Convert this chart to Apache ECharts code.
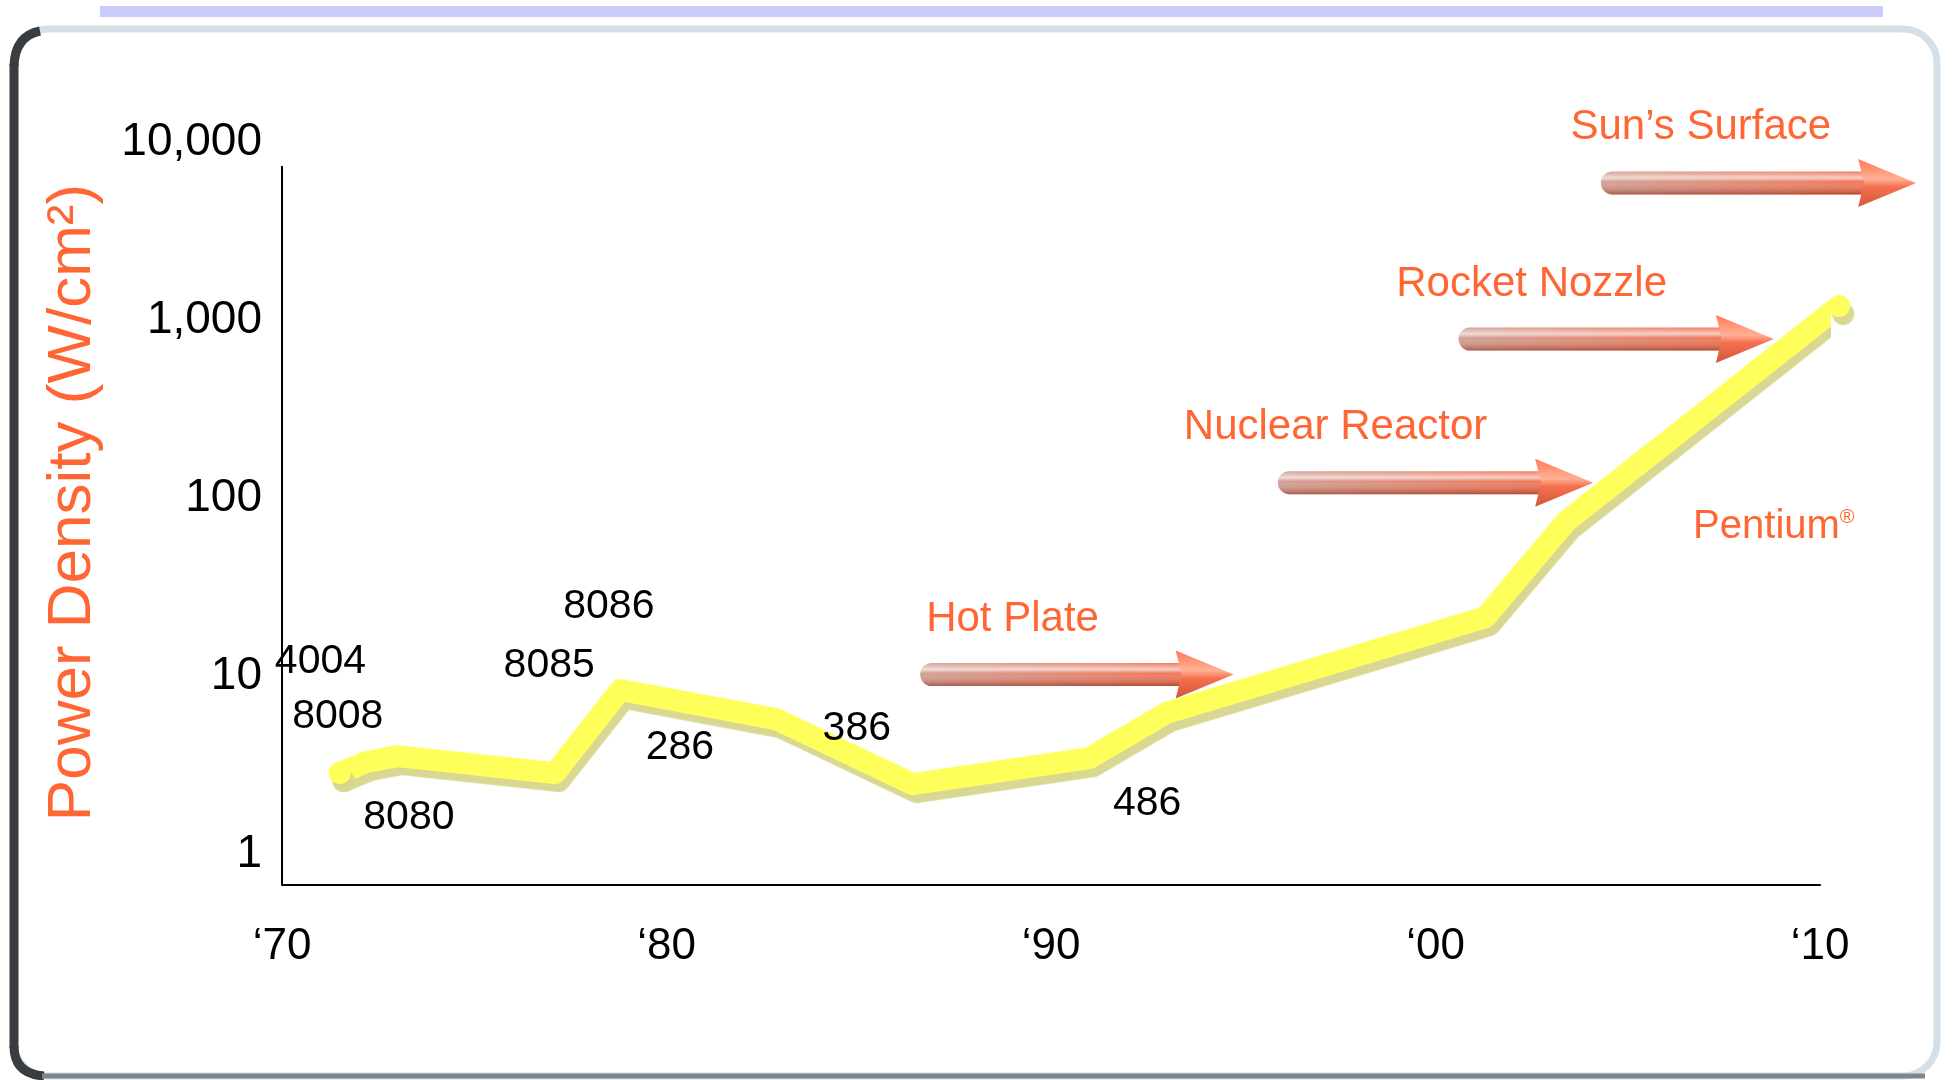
<!DOCTYPE html>
<html>
<head>
<meta charset="utf-8">
<script src="https://cdn.jsdelivr.net/npm/echarts@6/dist/echarts.min.js"></script>
<style>
html,body{margin:0;padding:0;background:#ffffff;}
#chart{width:1955px;height:1080px;}
</style>
</head>
<body>
<div id="chart"></div>
<script>
// ---- data ----
const lineYears  = [1971.5, 1972.2, 1973.0, 1977.1, 1978.8, 1982.85, 1986.4, 1991.0, 1993.0, 2001.3, 2003.4, 2010.5];
const lineValues = [2.85,   3.29,   3.55,   2.85,   8.35,   5.73,    2.47,   3.46,   6.2,    21.4,   74,     1200];

const chipNames       = ['4004', '8008', '8080', '8085', '8086', '286', '386', '486', 'Pentium®'];
const chipLabelYears  = [1971.0, 1971.45, 1973.3, 1976.95, 1978.5, 1980.35, 1984.95, 1992.5, 2008.8];
const chipLabelValues = [12.1,   5.9,     1.61,   11.5,    24.4,   3.94,    5.04,    1.91,   68.7];

const comparisonNames      = ['Hot Plate', 'Nuclear Reactor', 'Rocket Nozzle', 'Sun’s Surface'];
const comparisonValues     = [10.2, 122, 782, 5890];
const arrowStartYears      = [1986.6, 1995.9, 2000.6, 2004.3];
const arrowEndYears        = [1994.75, 2004.1, 2008.8, 2012.5];
const comparisonLabelYears = [1989.0, 1997.4, 2002.5, 2006.9];

const xTickYears = [1970, 1980, 1990, 2000, 2010];
const yTickValues = [1, 10, 100, 1000, 10000];
const yAxisMin = 0.67;          // bottom of the value axis
const yAxisLineTop = 7330;      // the drawn vertical axis line stops here

// ---- styles ----
const FONT = '"Liberation Sans", Arial, sans-serif';
const ORANGE = '#FF6633';
const YELLOW = '#FFFF5C';
const YSHADOW = 'rgba(214,214,140,0.95)';

const chart = echarts.init(document.getElementById('chart'), null, {renderer: 'canvas'});

const lineData = lineYears.map((x, i) => {
  const end = (i === 0 || i === lineYears.length - 1);
  return end ? {value: [x, lineValues[i]], symbol: 'circle', symbolSize: 22} : {value: [x, lineValues[i]]};
});

const option = {
  animation: false,
  backgroundColor: '#ffffff',
  textStyle: {fontFamily: FONT},
  grid: {left: 282, right: 135, top: 142, bottom: 195, containLabel: false},
  xAxis: {
    type: 'value',
    min: xTickYears[0],
    max: xTickYears[xTickYears.length - 1],
    interval: 10,
    axisLine: {show: true, lineStyle: {color: '#000', width: 2}},
    axisTick: {show: false},
    splitLine: {show: false},
    axisLabel: {
      margin: 40,
      fontSize: 44,
      color: '#000',
      fontFamily: FONT,
      formatter: v => xTickYears.indexOf(v) >= 0 ? '‘' + String(v).slice(2) : ''
    }
  },
  yAxis: {
    type: 'log',
    logBase: 10,
    min: yAxisMin,
    max: yTickValues[yTickValues.length - 1],
    name: 'Power Density (W/cm²)',
    nameLocation: 'middle',
    nameRotate: 90,
    nameGap: 178,
    nameTextStyle: {color: ORANGE, fontSize: 62, fontFamily: FONT, padding: [0, 0, 0, 22]},
    axisLine: {show: false},
    axisTick: {show: false},
    splitLine: {show: false},
    axisLabel: {
      showMinLabel: false,
      margin: 20,
      fontSize: 46,
      color: '#000',
      fontFamily: FONT,
      formatter: v => {
        const r = Math.round(v);
        return yTickValues.indexOf(r) >= 0 ? r.toLocaleString('en-US') : '';
      }
    }
  },
  graphic: [
    {type: 'rect', z: -10, shape: {x: 100, y: 6, width: 1783, height: 11}, style: {fill: '#CBCBFA'}},
    {type: 'rect', z: -10, shape: {x: 14, y: 29, width: 1923, height: 1047, r: 34},
      style: {fill: null, stroke: '#D5DFE8', lineWidth: 7}},
    {type: 'bezierCurve', z: -9, shape: {x1: 40, y1: 31, cpx1: 15, cpy1: 36, x2: 14, y2: 66},
      style: {fill: null, stroke: '#393C41', lineWidth: 9}},
    {type: 'line', z: -9, shape: {x1: 14, y1: 64, x2: 14, y2: 1048},
      style: {stroke: '#393C41', lineWidth: 9}},
    {type: 'bezierCurve', z: -9, shape: {x1: 14, y1: 1046, cpx1: 14, cpy1: 1074, x2: 44, y2: 1076},
      style: {fill: null, stroke: '#393C41', lineWidth: 9}},
    {type: 'line', z: -9, shape: {x1: 42, y1: 1076, x2: 1925, y2: 1076},
      style: {stroke: '#7D858D', lineWidth: 5}}
  ],
  series: [
    {
      type: 'line',
      data: lineData,
      symbol: 'none',
      showSymbol: true,
      clip: false,
      smooth: false,
      z: 3,
      itemStyle: {color: YELLOW, borderWidth: 0, shadowColor: YSHADOW, shadowOffsetX: 4, shadowOffsetY: 8, shadowBlur: 1},
      lineStyle: {
        color: YELLOW,
        width: 22,
        cap: 'round',
        join: 'round',
        shadowColor: YSHADOW,
        shadowOffsetX: 4,
        shadowOffsetY: 8,
        shadowBlur: 1
      },
      markLine: {
        silent: true,
        symbol: ['none', 'none'],
        label: {show: false},
        lineStyle: {color: '#000', width: 2, type: 'solid', shadowBlur: 0, shadowColor: 'transparent'},
        data: [[{coord: [xTickYears[0], yAxisMin]}, {coord: [xTickYears[0], yAxisLineTop]}]]
      }
    },
    {
      type: 'custom',
      clip: false,
      z: 6,
      data: chipNames.map((n, i) => [chipLabelYears[i], chipLabelValues[i], i]),
      renderItem: function (params, api) {
        const p = api.coord([api.value(0), api.value(1)]);
        const name = chipNames[api.value(2)];
        const special = name.indexOf('®') >= 0;
        return {
          type: 'text',
          style: {
            text: special ? name.replace('®', '{r|®}') : name,
            x: p[0], y: p[1], align: 'center', verticalAlign: 'middle',
            fill: special ? ORANGE : '#000',
            fontSize: special ? 40 : 41,
            fontFamily: FONT,
            rich: {r: {fontSize: 20, verticalAlign: 'top', fill: ORANGE, fontFamily: FONT}}
          }
        };
      }
    },
    {
      type: 'custom',
      clip: false,
      z: 5,
      data: comparisonNames.map((n, i) => [arrowStartYears[i], arrowEndYears[i], comparisonValues[i], comparisonLabelYears[i], i]),
      renderItem: function (params, api) {
        const v = api.value(2);
        const p0 = api.coord([api.value(0), v]);
        const p1 = api.coord([api.value(1), v]);
        const pl = api.coord([api.value(3), v]);
        const idx = api.value(4);
        const H = 23, HH = 48, HL = 58;
        const y = p0[1];
        const xb = p1[0] - HL;
        return {
          type: 'group',
          children: [
            {type: 'rect', shape: {x: p0[0], y: y - H / 2, width: xb - p0[0] + 6, height: H, r: [H / 2, 0, 0, H / 2]},
              style: {fill: {type: 'linear', x: 0, y: 0, x2: 1, y2: 0, colorStops: [
                {offset: 0, color: '#CF9C90'}, {offset: 0.5, color: '#E08670'}, {offset: 1, color: '#F07050'}]}}},
            {type: 'rect', shape: {x: p0[0], y: y - H / 2, width: xb - p0[0] + 6, height: H, r: [H / 2, 0, 0, H / 2]},
              style: {fill: {type: 'linear', x: 0, y: 0, x2: 0, y2: 1, colorStops: [
                {offset: 0, color: 'rgba(255,255,255,0.1)'},
                {offset: 0.28, color: 'rgba(255,255,255,0.65)'},
                {offset: 0.45, color: 'rgba(255,255,255,0.05)'},
                {offset: 1, color: 'rgba(130,30,10,0.5)'}]}}},
            {type: 'polygon', shape: {points: [[xb, y - HH / 2], [p1[0], y], [xb, y + HH / 2], [xb + 6, y]]},
              style: {fill: {type: 'linear', x: 0, y: 0, x2: 0, y2: 1, colorStops: [
                {offset: 0, color: '#FF7A58'}, {offset: 0.42, color: '#FFB094'},
                {offset: 0.58, color: '#F4704E'}, {offset: 1, color: '#D2583A'}]}}},
            {type: 'text', style: {text: comparisonNames[idx], x: pl[0], y: y - 55, align: 'center', verticalAlign: 'middle',
              fill: ORANGE, fontSize: 42, fontFamily: FONT}}
          ]
        };
      }
    }
  ]
};

chart.setOption(option);
</script>
</body>
</html>
